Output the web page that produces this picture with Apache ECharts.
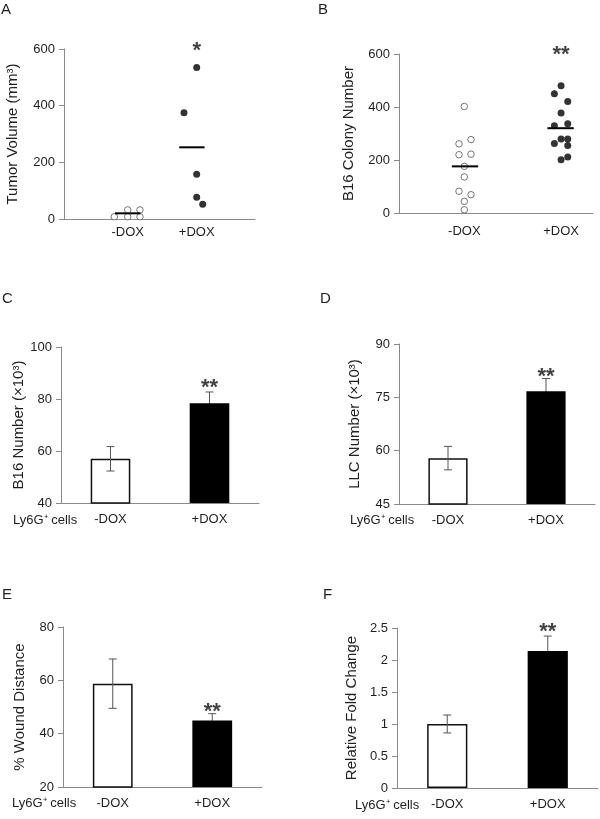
<!DOCTYPE html>
<html><head><meta charset="utf-8">
<script src="https://cdn.jsdelivr.net/npm/echarts@6/dist/echarts.min.js"></script>
<style>html,body{margin:0;padding:0;background:#fff}#c{width:600px;height:819px}</style>
</head><body><div id="c"></div>
<script>
// ---------- data ----------
const groups = ['-DOX', '+DOX'];
const groupPos = [1, 2];

// Panel A: tumor volume (scatter)
const aMinusX = [0.806, 1.0, 1.0, 1.178, 1.178];
const aMinusY = [8, 32, 8, 32, 8];
const aPlusX = [2.0, 1.816, 2.0, 2.0, 2.087];
const aPlusY = [535, 375, 158, 77, 52];
const aMeanX = [1.0, 1.93];
const aMeans = [20, 253];
const aStarX = [2.0];
const aStarY = [610];
const aStarText = ['*'];
const aTicks = [0, 600, 200];

// Panel B: B16 colony number (scatter)
const bMinusX = [1.0, 0.945, 1.069, 0.945, 1.069, 1.0, 1.0, 0.945, 1.069, 1.0, 1.0];
const bMinusY = [402, 261, 277, 220, 222, 176, 136, 82, 69, 44, 12];
const bPlusX = [2.0, 1.931, 2.069, 2.0, 1.931, 2.069, 2.0, 2.069, 1.931, 2.069, 2.0, 2.069];
const bPlusY = [480, 450, 421, 377, 329, 337, 279, 279, 262, 255, 201, 211];
const bMeanX = [1.007, 1.995];
const bMeans = [176, 320];
const bStarX = [2.0];
const bStarY = [616];
const bStarText = ['**'];
const bTicks = [0, 600, 200];

// Panel C: B16 number (x10^3)
const cMeans = [57.0, 78.4];
const cErr = [4.7, 4.3];
const cStarY = [86.2];
const cTicks = [40, 100, 20];

// Panel D: LLC number (x10^3)
const dMeans = [57.9, 76.7];
const dErr = [3.3, 3.6];
const dStarY = [82.2];
const dTicks = [45, 90, 15];

// Panel E: % wound distance
const eMeans = [58.75, 44.9];
const eErr = [9.25, 2.6];
const eStarY = [50.1];
const eTicks = [20, 80, 20];

// Panel F: relative fold change
const fMeans = [1.0, 2.14];
const fErr = [0.14, 0.234];
const fStarY = [2.51];
const fTicks = [0, 2.5, 0.5];

const yNames = ['Tumor Volume (mm³)', 'B16 Colony Number', 'B16 Number (×10³)', 'LLC Number (×10³)', '% Wound Distance', 'Relative Fold Change'];
const panelLetters = ['A', 'B', 'C', 'D', 'E', 'F'];
const rowLabel = 'Ly6G⁺ cells';

// ---------- layout / style ----------
const FONT = 'Liberation Sans, Arial, sans-serif';
const TXT = '#1f1f1f';
const AXC = '#8a8a8a';
const grids = [
  {left: 64, top: 49, width: 191, height: 170},
  {left: 399, top: 54, width: 194, height: 159},
  {left: 61, top: 347, width: 198, height: 156},
  {left: 399, top: 344, width: 196, height: 160},
  {left: 63, top: 627, width: 199, height: 160},
  {left: 397, top: 628, width: 201, height: 160}
];
const nameGaps = [44, 43, 34, 37, 36, 38];
const xRanges = [[0.077, 2.845], [0.325, 2.33]];

const chart = echarts.init(document.getElementById('c'), null, {renderer: 'canvas'});

const xAxes = [], yAxes = [], series = [];
const tickSets = [aTicks, bTicks, cTicks, dTicks, eTicks, fTicks];

for (let i = 0; i < 6; i++) {
  const base = {
    gridIndex: i,
    axisLine: {show: true, lineStyle: {color: AXC, width: 1}},
    axisTick: {show: false},
    splitLine: {show: false},
    axisLabel: {color: TXT, fontFamily: FONT, fontSize: 13, margin: i < 2 ? (i === 0 ? 7 : 12) : 10}
  };
  if (i < 2) {
    xAxes.push(Object.assign({}, base, {
      type: 'value', min: xRanges[i][0], max: xRanges[i][1],
      axisLabel: Object.assign({}, base.axisLabel, {
        customValues: groupPos,
        formatter: v => groups[groupPos.indexOf(Math.round(v))] || ''
      })
    }));
  } else {
    xAxes.push(Object.assign({}, base, {type: 'category', data: groups}));
  }
  const t = tickSets[i];
  yAxes.push({
    gridIndex: i, type: 'value', min: t[0], max: t[1], interval: t[2],
    name: yNames[i], nameLocation: 'middle', nameGap: nameGaps[i],
    nameTextStyle: {color: TXT, fontFamily: FONT, fontSize: 15},
    axisLine: {show: true, lineStyle: {color: AXC, width: 1}},
    axisTick: {show: true, length: 5, inside: false, lineStyle: {color: AXC}},
    splitLine: {show: false},
    axisLabel: {color: TXT, fontFamily: FONT, fontSize: 13, margin: 9}
  });
}

function zip(xs, ys) { return xs.map((x, k) => [x, ys[k]]); }

function scatterPair(i, mx, my, px, py) {
  series.push({
    type: 'scatter', xAxisIndex: i, yAxisIndex: i, data: zip(mx, my),
    symbol: 'circle', symbolSize: 6.5, silent: true,
    itemStyle: {color: '#fff', borderColor: '#555', borderWidth: 1}
  });
  series.push({
    type: 'scatter', xAxisIndex: i, yAxisIndex: i, data: zip(px, py),
    symbol: 'circle', symbolSize: 7, silent: true,
    itemStyle: {color: '#000'}
  });
}

function meanLines(i, xs, ms, hw) {
  series.push({
    type: 'custom', xAxisIndex: i, yAxisIndex: i, data: zip(xs, ms), silent: true, z: 5,
    renderItem: (params, api) => {
      const x = api.value(0), y = api.value(1);
      const p1 = api.coord([x - hw, y]), p2 = api.coord([x + hw, y]);
      return {type: 'line', shape: {x1: p1[0], y1: p1[1], x2: p2[0], y2: p2[1]},
        style: {stroke: '#000', lineWidth: 2}};
    }
  });
}

function stars(i, xs, ys, texts, size) {
  series.push({
    type: 'scatter', xAxisIndex: i, yAxisIndex: i, clip: false, silent: true,
    data: xs.map((x, k) => [x, ys[k], texts[k]]),
    symbol: 'circle', symbolSize: 1, itemStyle: {color: 'rgba(0,0,0,0)'},
    label: {show: true, position: 'inside', formatter: p => p.data[2],
      color: '#111', fontFamily: FONT, fontSize: size, fontWeight: 'bold', offset: [0, 5]}
  });
}

function errorSeries(i, means, errs, idx, z) {
  series.push({
    type: 'custom', xAxisIndex: i, yAxisIndex: i, silent: true, z: z,
    data: idx.map(k => [k, means[k], errs[k]]),
    renderItem: (params, api) => {
      const x = api.value(0), m = api.value(1), e = api.value(2);
      const top = api.coord([x, m + e]), bot = api.coord([x, m - e]);
      const cw = 4;
      const st = {stroke: '#555', lineWidth: 1};
      return {type: 'group', children: [
        {type: 'line', shape: {x1: top[0], y1: top[1], x2: bot[0], y2: bot[1]}, style: st},
        {type: 'line', shape: {x1: top[0] - cw, y1: top[1], x2: top[0] + cw, y2: top[1]}, style: st},
        {type: 'line', shape: {x1: bot[0] - cw, y1: bot[1], x2: bot[0] + cw, y2: bot[1]}, style: st}
      ]};
    }
  });
}

function barPanel(i, means, errs, starY) {
  series.push({
    type: 'bar', xAxisIndex: i, yAxisIndex: i, barWidth: '40%', silent: true, z: 2,
    data: means.map((m, k) => ({
      value: m,
      itemStyle: k === 0 ? {color: '#fff', borderColor: '#111', borderWidth: 1.5} : {color: '#000'}
    }))
  });
  errorSeries(i, means, errs, [0], 10);  // drawn over the white bar
  errorSeries(i, means, errs, [1], 1);   // lower half hidden behind the black bar
  stars(i, [1], starY, ['**'], 22);
}

scatterPair(0, aMinusX, aMinusY, aPlusX, aPlusY);
meanLines(0, aMeanX, aMeans, 0.184);
stars(0, aStarX, aStarY, aStarText, 22);

scatterPair(1, bMinusX, bMinusY, bPlusX, bPlusY);
meanLines(1, bMeanX, bMeans, 0.136);
stars(1, bStarX, bStarY, bStarText, 22);

barPanel(2, cMeans, cErr, cStarY);
barPanel(3, dMeans, dErr, dStarY);
barPanel(4, eMeans, eErr, eStarY);
barPanel(5, fMeans, fErr, fStarY);

const letterPos = [[1, 2], [318, 2], [2, 291], [320, 291], [2, 587], [323, 587]];
const rowLabelPos = [[13, 520], [350, 520], [12, 803], [355, 805]];
const graphic = [];
panelLetters.forEach((L, k) => graphic.push({
  type: 'text', left: letterPos[k][0], top: letterPos[k][1],
  style: {text: L, fill: TXT, font: '15px ' + FONT}
}));
rowLabelPos.forEach(p => graphic.push({
  type: 'text', x: p[0], y: p[1],
  style: {text: rowLabel, fill: TXT, font: '13px ' + FONT, verticalAlign: 'middle'}
}));

chart.setOption({
  animation: false,
  backgroundColor: '#fff',
  grid: grids.map(g => Object.assign({containLabel: false}, g)),
  xAxis: xAxes,
  yAxis: yAxes,
  series: series,
  graphic: graphic
});
</script></body></html>
